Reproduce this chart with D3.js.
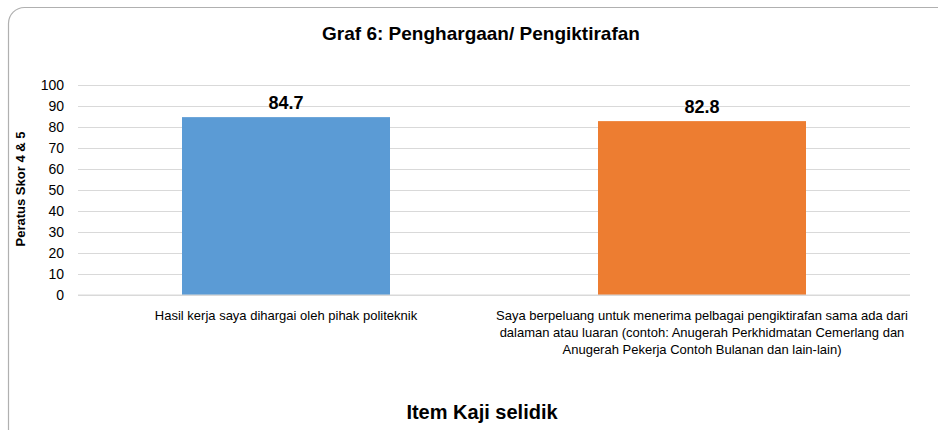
<!DOCTYPE html>
<html>
<head>
<meta charset="utf-8">
<script src="https://d3js.org/d3.v7.min.js"></script>
<style>
  body { margin: 0; background: #fff; }
  text { font-family: "Liberation Sans Narrow", "Arial Narrow", "Liberation Sans", Arial, sans-serif; }
</style>
</head>
<body>
<script>
  const categories = [
    "Hasil kerja saya dihargai oleh pihak politeknik",
    "Saya berpeluang untuk menerima pelbagai pengiktirafan sama ada dari dalaman atau luaran (contoh: Anugerah Perkhidmatan Cemerlang dan Anugerah Pekerja Contoh Bulanan dan lain-lain)"
  ];
  const categoryLines = [
    ["Hasil kerja saya dihargai oleh pihak politeknik"],
    ["Saya berpeluang untuk menerima pelbagai pengiktirafan sama ada dari",
     "dalaman atau luaran (contoh: Anugerah Perkhidmatan Cemerlang dan",
     "Anugerah Pekerja Contoh Bulanan dan lain-lain)"]
  ];
  const values = [84.7, 82.8];
  const colors = ["#5b9bd5", "#ed7d31"];
  const yTicks = [0, 10, 20, 30, 40, 50, 60, 70, 80, 90, 100];

  const w = 938, h = 430;
  const plotLeft = 78, plotRight = 910, plotTop = 85, plotBottom = 295;

  const svg = d3.select("body").append("svg")
    .attr("width", w).attr("height", h);

  // chart frame
  svg.append("rect")
    .attr("x", 8.5).attr("y", 7.5)
    .attr("width", 980).attr("height", 450)
    .attr("rx", 16).attr("ry", 16)
    .attr("fill", "#fff")
    .attr("stroke", "#b0b0b0")
    .attr("stroke-width", 1.2);

  const x = d3.scaleBand()
    .domain(categories)
    .range([plotLeft, plotRight])
    .paddingInner(0.5)
    .paddingOuter(0.25);

  const y = d3.scaleLinear()
    .domain([0, 100])
    .range([plotBottom, plotTop]);

  // gridlines + tick labels
  const yAxis = d3.axisLeft(y)
    .tickValues(yTicks)
    .tickSize(-(plotRight - plotLeft))
    .tickPadding(14);

  const gy = svg.append("g")
    .attr("transform", "translate(" + plotLeft + ",0)")
    .call(yAxis);
  gy.select(".domain").remove();
  gy.selectAll(".tick line").attr("stroke", "#d9d9d9").attr("stroke-width", 1);
  gy.selectAll(".tick text")
    .attr("font-size", 14)
    .attr("fill", "#000")
    .style("font-family", "\"Liberation Sans Narrow\", \"Arial Narrow\", \"Liberation Sans\", sans-serif");

  // bars
  svg.selectAll("rect.bar")
    .data(values)
    .enter()
    .append("rect")
    .attr("class", "bar")
    .attr("x", (d, i) => x(categories[i]))
    .attr("y", d => y(d))
    .attr("width", x.bandwidth())
    .attr("height", d => y(0) - y(d))
    .attr("fill", (d, i) => colors[i]);

  // baseline
  svg.append("line")
    .attr("x1", plotLeft).attr("x2", plotRight)
    .attr("y1", y(0)).attr("y2", y(0))
    .attr("stroke", "#d9d9d9");

  // value labels
  svg.selectAll("text.val")
    .data(values)
    .enter()
    .append("text")
    .attr("class", "val")
    .attr("x", (d, i) => x(categories[i]) + x.bandwidth() / 2)
    .attr("y", d => y(d) - 8)
    .attr("text-anchor", "middle")
    .attr("font-size", 18)
    .attr("font-weight", "bold")
    .text(d => d.toFixed(1));

  // category labels
  categoryLines.forEach((lines, i) => {
    const cx = x(categories[i]) + x.bandwidth() / 2;
    const t = svg.append("text")
      .attr("x", cx)
      .attr("y", 320)
      .attr("text-anchor", "middle")
      .attr("font-size", 13);
    lines.forEach((ln, j) => {
      t.append("tspan").attr("x", cx).attr("dy", j === 0 ? 0 : 17).text(ln);
    });
  });

  // title
  svg.append("text")
    .attr("x", 481).attr("y", 40)
    .attr("text-anchor", "middle")
    .attr("font-size", 19)
    .attr("font-weight", "bold")
    .text("Graf 6: Penghargaan/ Pengiktirafan");

  // y axis title
  svg.append("text")
    .attr("transform", "translate(25," + ((plotTop + plotBottom) / 2 - 1) + ") rotate(-90)")
    .attr("text-anchor", "middle")
    .attr("font-size", 13)
    .attr("font-weight", "bold")
    .text("Peratus Skor 4 & 5");

  // x axis title
  svg.append("text")
    .attr("x", 482).attr("y", 419)
    .attr("text-anchor", "middle")
    .attr("font-size", 20)
    .attr("font-weight", "bold")
    .text("Item Kaji selidik");
</script>
</body>
</html>
